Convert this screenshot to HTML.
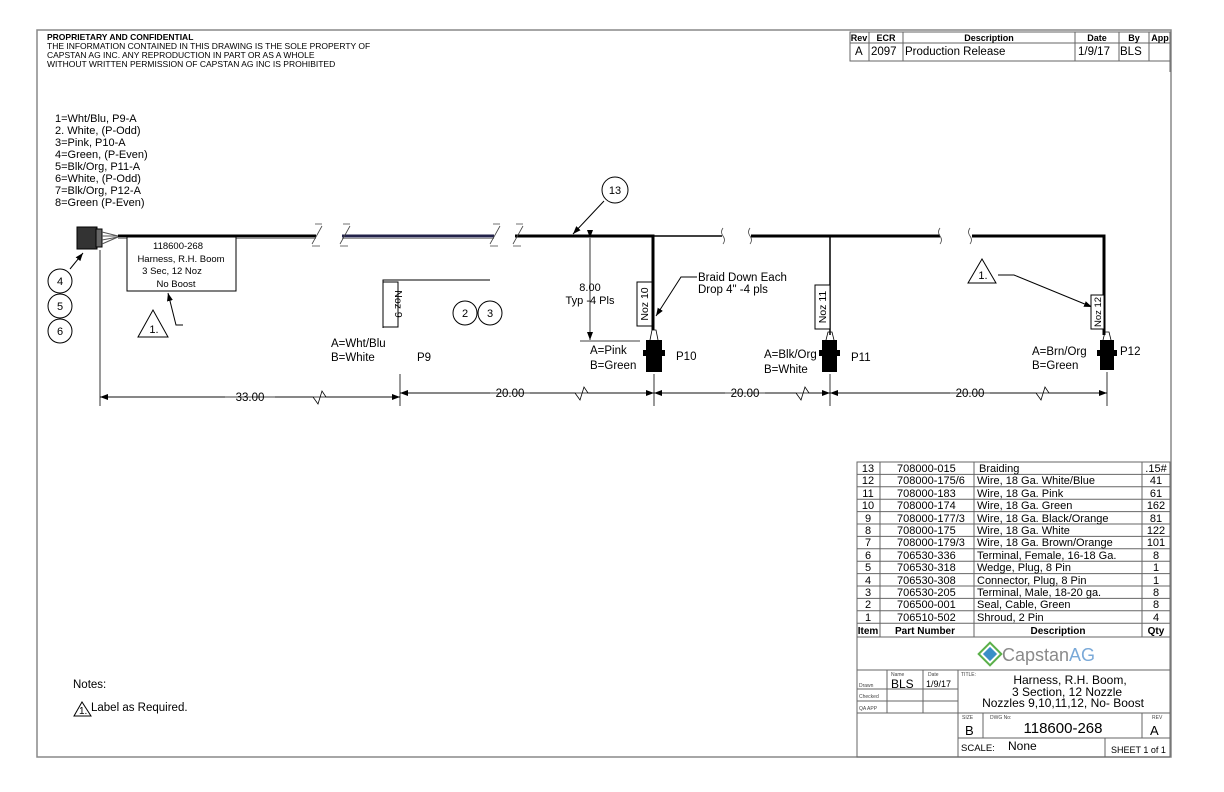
<!DOCTYPE html>
<html><head><meta charset="utf-8"><style>
html,body{margin:0;padding:0;background:#fff;}
svg{display:block;font-family:"Liberation Sans",sans-serif;}
</style></head><body>
<svg width="1224" height="792" viewBox="0 0 1224 792" xmlns="http://www.w3.org/2000/svg">
<defs><marker id="a" markerWidth="8" markerHeight="6" refX="8" refY="3" orient="auto" markerUnits="userSpaceOnUse"><path d="M0,0 L8,3 L0,6z" fill="#000"/></marker></defs>
<rect x="37" y="30" width="1134" height="727" fill="none" stroke="#888" stroke-width="1.5"/>
<!-- header text -->
<g font-size="8.5" fill="#000">
<text x="47" y="40" font-weight="bold">PROPRIETARY AND CONFIDENTIAL</text>
<text x="47" y="49">THE INFORMATION CONTAINED IN THIS DRAWING IS THE SOLE PROPERTY OF</text>
<text x="47" y="58">CAPSTAN AG INC. ANY REPRODUCTION IN PART OR AS A WHOLE</text>
<text x="47" y="67">WITHOUT WRITTEN PERMISSION OF CAPSTAN AG INC IS PROHIBITED</text>
</g>
<!-- rev table -->
<g stroke="#666" fill="none" stroke-width="1">
<rect x="850" y="32" width="320" height="29"/>
<line x1="850" y1="43" x2="1170" y2="43"/>
<line x1="869" y1="32" x2="869" y2="61"/><line x1="903" y1="32" x2="903" y2="61"/>
<line x1="1075" y1="32" x2="1075" y2="61"/><line x1="1119" y1="32" x2="1119" y2="61"/><line x1="1149" y1="32" x2="1149" y2="61"/>
<line x1="1170" y1="61" x2="1170" y2="72"/>
</g>
<g font-size="9" font-weight="bold" text-anchor="middle"><text x="859" y="41">Rev</text><text x="886" y="41">ECR</text><text x="989" y="41">Description</text><text x="1097" y="41">Date</text><text x="1134" y="41">By</text><text x="1160" y="41">App</text></g>
<g font-size="11.5"><text x="855" y="55">A</text><text x="871" y="55">2097</text><text x="905" y="55">Production Release</text><text x="1078" y="55">1/9/17</text><text x="1120" y="55">BLS</text></g>
<!-- wire list -->
<g font-size="11">
<text x="55" y="122">1=Wht/Blu, P9-A</text><text x="55" y="134">2. White, (P-Odd)</text><text x="55" y="146">3=Pink, P10-A</text><text x="55" y="158">4=Green, (P-Even)</text><text x="55" y="170">5=Blk/Org, P11-A</text><text x="55" y="182">6=White, (P-Odd)</text><text x="55" y="194">7=Blk/Org, P12-A</text><text x="55" y="206">8=Green (P-Even)</text>
</g>
<!-- connector -->
<rect x="77" y="227" width="20" height="22" fill="#333" stroke="#000"/>
<rect x="96" y="229" width="6" height="18" fill="#666" stroke="#000"/>
<path d="M102,232 L118,236 M102,236 L118,236 M102,240 L118,237 M102,244 L118,237" stroke="#555" fill="none"/>
<!-- wires -->
<g stroke="#000">
<line x1="118" y1="236" x2="316" y2="236" stroke-width="3"/>
<line x1="118" y1="238.5" x2="316" y2="238.5" stroke="#999" stroke-width="1"/>
<line x1="342" y1="236" x2="494" y2="236" stroke-width="3" stroke="#22224a"/>
<line x1="342" y1="238.5" x2="494" y2="238.5" stroke="#999" stroke-width="1"/>
<path d="M515,236 L653,236 L653,330" fill="none" stroke-width="3"/>
<line x1="653" y1="236" x2="722" y2="236" stroke-width="1.5"/>
<line x1="751" y1="236" x2="940" y2="236" stroke-width="3"/>
<line x1="830" y1="236" x2="830" y2="335" stroke-width="1.5"/>
<path d="M972,236 L1104,236 L1104,335" fill="none" stroke-width="3"/>
</g>
<!-- break marks -->
<g stroke="#444" fill="none" stroke-width="0.8">
<path d="M312,244 L322,226 M315,224 L322,224 M312,246 L320,246"/>
<path d="M340,244 L350,226 M343,224 L350,224 M340,246 L348,246"/>
<path d="M490,244 L500,226 M493,224 L500,224 M490,246 L498,246"/>
<path d="M513,244 L523,226 M516,224 L523,224 M513,246 L521,246"/>
<path d="M723,228 q-3,4 0,8 q3,4 0,8"/><path d="M750,228 q-3,4 0,8 q3,4 0,8"/>
<path d="M940,228 q-3,4 0,8 q3,4 0,8"/><path d="M970,228 q-3,4 0,8 q3,4 0,8"/>
</g>
<!-- label box -->
<rect x="127" y="237" width="109" height="54" fill="#fff" stroke="#000"/>
<g font-size="9.5" text-anchor="middle"><text x="178" y="249">118600-268</text><text x="181" y="262">Harness, R.H. Boom</text><text x="172" y="274">3 Sec, 12 Noz</text><text x="176" y="287">No Boost</text></g>
<!-- balloons -->
<g fill="none" stroke="#000">
<circle cx="60" cy="281" r="12"/><circle cx="60" cy="306" r="12"/><circle cx="60" cy="331" r="12"/>
<circle cx="465" cy="313" r="12"/><circle cx="490" cy="313" r="12"/>
<circle cx="615" cy="190" r="13"/>
<path d="M70,269 L83,253" marker-end="url(#a)"/>
<path d="M604,201 L573,234" marker-end="url(#a)"/>
<path d="M138,337 L153,310 L168,337 Z"/>
<path d="M183,325 L176,325 L168,293" marker-end="url(#a)"/>
<path d="M968,283 L982,259 L996,283 Z"/>
<path d="M998,275 L1014,275 L1092,307" marker-end="url(#a)"/>
<path d="M697,277 L681,277 L656,316" marker-end="url(#a)"/>
<path d="M383,328 L383,280 L490,280"/>
</g>
<g font-size="11" text-anchor="middle"><text x="60" y="285">4</text><text x="60" y="310">5</text><text x="60" y="335">6</text><text x="465" y="317">2</text><text x="490" y="317">3</text><text x="615" y="194">13</text><text x="154" y="333">1.</text><text x="983" y="279">1.</text></g>
<!-- noz boxes -->
<g fill="#fff" stroke="#000">
<rect x="383" y="282" width="15" height="45"/><rect x="637" y="282" width="15" height="44"/><rect x="815" y="285" width="15" height="44"/><rect x="1091" y="295" width="13" height="34"/>
</g>
<g font-size="10.5">
<text transform="translate(394,304) rotate(90)" text-anchor="middle" dy="-1">Noz 9</text>
<text transform="translate(648,304) rotate(-90)" text-anchor="middle">Noz 10</text>
<text transform="translate(826,307) rotate(-90)" text-anchor="middle">Noz 11</text>
<text transform="translate(1101,312) rotate(-90)" text-anchor="middle" font-size="9.5">Noz 12</text>
</g>
<!-- plugs -->
<g fill="#000">
<rect x="646" y="340" width="16" height="32"/><rect x="822" y="340" width="15" height="32"/><rect x="1100" y="340" width="14" height="30"/>
<rect x="643" y="350" width="22" height="6"/><rect x="819" y="350" width="21" height="6"/><rect x="1097" y="350" width="20" height="6"/>
</g>
<g fill="none" stroke="#000" stroke-width="0.8"><path d="M650,340 L652,330 L656,330 L658,340"/><path d="M826,340 L828,332 L832,332 L834,340"/><path d="M1103,340 L1105,332 L1109,332 L1111,340"/></g>
<!-- 8.00 dim -->
<g stroke="#000" fill="none" stroke-width="0.8">
<line x1="590" y1="238" x2="590" y2="340" marker-start="url(#a)" marker-end="url(#a)"/>
<line x1="580" y1="341" x2="640" y2="341"/>
</g>
<g font-size="11" text-anchor="middle"><text x="590" y="291">8.00</text><text x="590" y="304">Typ -4 Pls</text></g>
<g font-size="11.5"><text x="698" y="281">Braid Down Each</text><text x="698" y="293">Drop 4" -4 pls</text>
<text x="331" y="347">A=Wht/Blu</text><text x="331" y="361">B=White</text><text x="417" y="361">P9</text>
<text x="590" y="354">A=Pink</text><text x="590" y="369">B=Green</text><text x="676" y="360">P10</text>
<text x="764" y="358">A=Blk/Org</text><text x="764" y="373">B=White</text><text x="851" y="361">P11</text>
<text x="1032" y="355">A=Brn/Org</text><text x="1032" y="369">B=Green</text><text x="1120" y="355">P12</text></g>
<!-- bottom dims -->
<g stroke="#000" fill="none" stroke-width="0.8">
<line x1="100" y1="250" x2="100" y2="406"/><line x1="400" y1="374" x2="400" y2="406"/><line x1="654" y1="374" x2="654" y2="406"/><line x1="830" y1="374" x2="830" y2="406"/><line x1="1107" y1="372" x2="1107" y2="406"/>
<path d="M100,397 L225,397 M275,397 L313,397 L318,404 L322,391 L326,397 L400,397" marker-end="url(#a)"/>
<path d="M400,397 L100,397" marker-end="url(#a)"/>
<path d="M400,393 L490,393 M530,393 L575,393 L580,400 L584,387 L588,393 L654,393" marker-end="url(#a)"/>
<path d="M654,393 L400,393" marker-end="url(#a)"/>
<path d="M654,393 L725,393 M765,393 L796,393 L801,400 L805,387 L809,393 L830,393" marker-end="url(#a)"/>
<path d="M830,393 L654,393" marker-end="url(#a)"/>
<path d="M830,393 L950,393 M990,393 L1036,393 L1041,400 L1045,387 L1049,393 L1107,393" marker-end="url(#a)"/>
<path d="M1107,393 L830,393" marker-end="url(#a)"/>
</g>
<g font-size="11.5" text-anchor="middle"><text x="250" y="401">33.00</text><text x="510" y="397">20.00</text><text x="745" y="397">20.00</text><text x="970" y="397">20.00</text></g>
<!-- notes -->
<text x="73" y="688" font-size="11.5">Notes:</text>
<path d="M74,716 L82,702 L91,716 Z" fill="none" stroke="#000"/>
<text x="79" y="714" font-size="10">1.</text>
<text x="91" y="711" font-size="11.5">Label as Required.</text>
<!-- BOM -->
<g stroke="#666" fill="none" stroke-width="1">
<rect x="857" y="462" width="313" height="295"/>
<line x1="880" y1="462" x2="880" y2="637"/><line x1="974" y1="462" x2="974" y2="637"/><line x1="1142" y1="462" x2="1142" y2="637"/>
<line x1="857" y1="474.4" x2="1170" y2="474.4"/><line x1="857" y1="486.8" x2="1170" y2="486.8"/><line x1="857" y1="499.2" x2="1170" y2="499.2"/><line x1="857" y1="511.6" x2="1170" y2="511.6"/><line x1="857" y1="524" x2="1170" y2="524"/><line x1="857" y1="536.4" x2="1170" y2="536.4"/><line x1="857" y1="548.8" x2="1170" y2="548.8"/><line x1="857" y1="561.2" x2="1170" y2="561.2"/><line x1="857" y1="573.6" x2="1170" y2="573.6"/><line x1="857" y1="586" x2="1170" y2="586"/><line x1="857" y1="598.4" x2="1170" y2="598.4"/><line x1="857" y1="610.8" x2="1170" y2="610.8"/><line x1="857" y1="623.2" x2="1170" y2="623.2"/>
<line x1="857" y1="637" x2="1170" y2="637"/><line x1="857" y1="670" x2="1170" y2="670"/>
<line x1="958" y1="670" x2="958" y2="757"/><line x1="887" y1="670" x2="887" y2="713"/><line x1="923" y1="670" x2="923" y2="713"/>
<line x1="857" y1="689" x2="958" y2="689"/><line x1="857" y1="701" x2="958" y2="701"/><line x1="857" y1="713" x2="1170" y2="713"/>
<line x1="958" y1="738" x2="1170" y2="738"/><line x1="983" y1="713" x2="983" y2="738"/><line x1="1142" y1="713" x2="1142" y2="738"/><line x1="1105" y1="738" x2="1105" y2="757"/>
</g>
<g font-size="11">
<g text-anchor="middle">
<text x="868" y="472">13</text><text x="868" y="484">12</text><text x="868" y="497">11</text><text x="868" y="509">10</text><text x="868" y="522">9</text><text x="868" y="534">8</text><text x="868" y="546">7</text><text x="868" y="559">6</text><text x="868" y="571">5</text><text x="868" y="584">4</text><text x="868" y="596">3</text><text x="868" y="608">2</text><text x="868" y="621">1</text>
<text x="1156" y="472">.15#</text><text x="1156" y="484">41</text><text x="1156" y="497">61</text><text x="1156" y="509">162</text><text x="1156" y="522">81</text><text x="1156" y="534">122</text><text x="1156" y="546">101</text><text x="1156" y="559">8</text><text x="1156" y="571">1</text><text x="1156" y="584">1</text><text x="1156" y="596">8</text><text x="1156" y="608">8</text><text x="1156" y="621">4</text>
</g>
<g text-anchor="start">
<text x="897" y="472">708000-015</text><text x="897" y="484">708000-175/6</text><text x="897" y="497">708000-183</text><text x="897" y="509">708000-174</text><text x="897" y="522">708000-177/3</text><text x="897" y="534">708000-175</text><text x="897" y="546">708000-179/3</text><text x="897" y="559">706530-336</text><text x="897" y="571">706530-318</text><text x="897" y="584">706530-308</text><text x="897" y="596">706530-205</text><text x="897" y="608">706500-001</text><text x="897" y="621">706510-502</text>
<text x="979" y="472">Braiding</text><text x="977" y="484">Wire, 18 Ga. White/Blue</text><text x="977" y="497">Wire, 18 Ga. Pink</text><text x="977" y="509">Wire, 18 Ga. Green</text><text x="977" y="522">Wire, 18 Ga. Black/Orange</text><text x="977" y="534">Wire, 18 Ga. White</text><text x="977" y="546">Wire, 18 Ga. Brown/Orange</text><text x="977" y="559">Terminal, Female, 16-18 Ga.</text><text x="977" y="571">Wedge, Plug, 8 Pin</text><text x="977" y="584">Connector, Plug, 8 Pin</text><text x="977" y="596">Terminal, Male, 18-20 ga.</text><text x="977" y="608">Seal, Cable, Green</text><text x="977" y="621">Shroud, 2 Pin</text>
</g>
</g>
<g font-size="10" font-weight="bold" text-anchor="middle"><text x="868" y="634">Item</text><text x="925" y="634">Part Number</text><text x="1058" y="634">Description</text><text x="1156" y="634">Qty</text></g>
<!-- logo -->
<g transform="translate(990,654) rotate(45)"><rect x="-8" y="-8" width="16" height="16" fill="none" stroke="#5bb04a" stroke-width="2"/><rect x="-5" y="-5" width="10" height="10" fill="#3a8fc8"/></g>
<text x="1002" y="661" font-size="18" fill="#8a8a8a">Capstan<tspan fill="#7aa9d8">AG</tspan></text>
<!-- title block -->
<g font-size="5" fill="#444"><text x="891" y="676">Name</text><text x="928" y="676">Date</text><text x="961" y="676">TITLE:</text><text x="859" y="687">Drawn</text><text x="859" y="698">Checked</text><text x="859" y="710">QA APP</text><text x="962" y="719">SIZE</text><text x="990" y="719">DWG No:</text><text x="1152" y="719">REV</text></g>
<text x="891" y="688" font-size="12">BLS</text><text x="926" y="687" font-size="9">1/9/17</text>
<g font-size="12" text-anchor="middle"><text x="1070" y="684">Harness, R.H. Boom,</text><text x="1067" y="696">3 Section, 12 Nozzle</text><text x="1063" y="707">Nozzles 9,10,11,12, No- Boost</text></g>
<text x="965" y="735" font-size="13">B</text><text x="1063" y="733" font-size="15" text-anchor="middle">118600-268</text><text x="1150" y="735" font-size="13">A</text>
<text x="961" y="751" font-size="9.5">SCALE:</text><text x="1008" y="750" font-size="12">None</text><text x="1111" y="753" font-size="9">SHEET 1 of 1</text>
</svg>
</body></html>
